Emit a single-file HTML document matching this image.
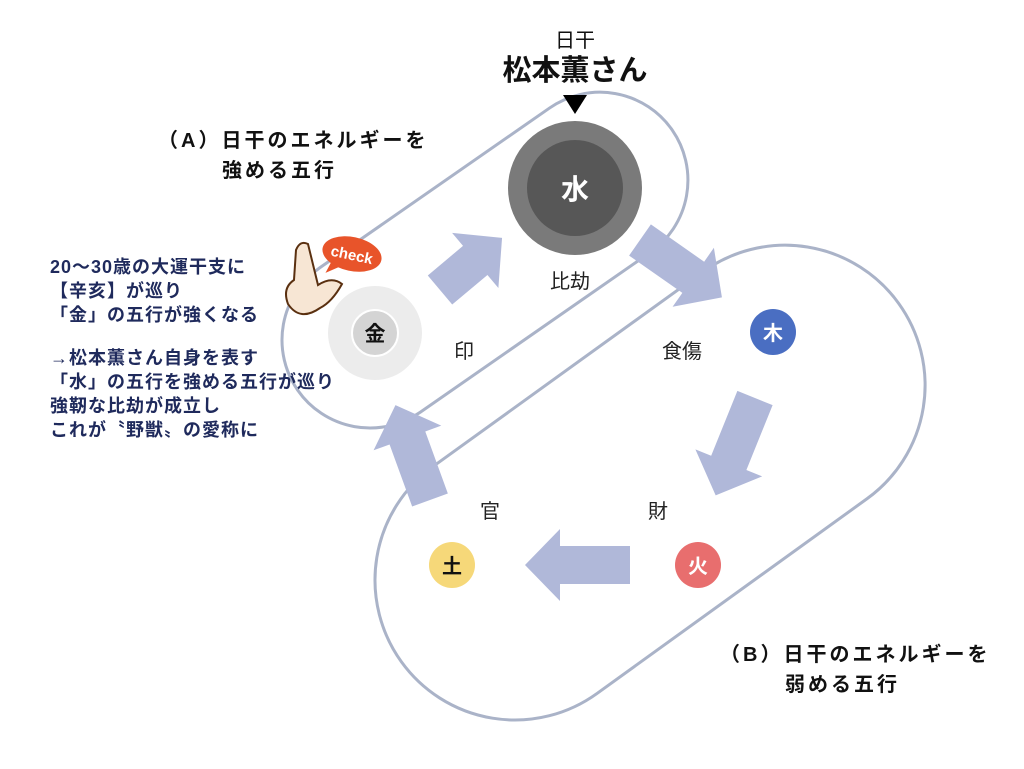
<!DOCTYPE html>
<html><head><meta charset="utf-8"><style>
body{margin:0;background:#fff;width:1024px;height:764px;overflow:hidden;font-family:"Liberation Sans","Noto Sans CJK JP",sans-serif;}
</style></head><body>
<svg width="1024" height="764" viewBox="0 0 1024 764" xmlns="http://www.w3.org/2000/svg" font-family="Liberation Sans, Noto Sans CJK JP, sans-serif">
<rect width="1024" height="764" fill="#fff"/>
<g transform="translate(370,340) rotate(-34.8)">
<rect x="-88" y="-88" width="456" height="176" rx="88" fill="none" stroke="#aab3c8" stroke-width="3"/>
</g>
<g transform="translate(515,580) rotate(-35.8)">
<rect x="-140" y="-140" width="613" height="280" rx="140" fill="none" stroke="#aab3c8" stroke-width="3"/>
</g>
<g fill="#b0b8d9">
<polygon transform="translate(440,290) rotate(-40)" points="0,-19 46,-19 46,-36 81,0 46,36 46,19 0,19"/>
<polygon transform="translate(640,240) rotate(35)" points="0,-19 65,-19 65,-36 100,0 65,36 65,19 0,19"/>
<polygon transform="translate(755,398) rotate(112)" points="0,-19 70,-19 70,-36 105,0 70,36 70,19 0,19"/>
<polygon transform="translate(630,565) rotate(180)" points="0,-19 70,-19 70,-36 105,0 70,36 70,19 0,19"/>
<polygon transform="translate(430,500) rotate(-110)" points="0,-19 66,-19 66,-36 101,0 66,36 66,19 0,19"/>
</g>
<circle cx="575" cy="188" r="67" fill="#7a7a7a"/>
<circle cx="575" cy="188" r="48" fill="#575757"/>
<text x="575" y="199" font-size="28" font-weight="bold" fill="#fff" text-anchor="middle">水</text>
<polygon points="563,95 587,95 575,114" fill="#000"/>
<text x="575" y="47" font-size="20" text-anchor="middle" fill="#111">日干</text>
<text x="575" y="80" font-size="29" font-weight="bold" text-anchor="middle" fill="#111">松本薫さん</text>
<circle cx="375" cy="333" r="47" fill="#ececec"/>
<circle cx="375" cy="333" r="23" fill="#d4d4d4" stroke="#fff" stroke-width="2"/>
<text x="375" y="341" font-size="21" font-weight="bold" text-anchor="middle" fill="#111">金</text>
<circle cx="773" cy="332" r="23" fill="#4a6ec2"/>
<text x="773" y="340" font-size="20" font-weight="bold" text-anchor="middle" fill="#fff">木</text>
<circle cx="698" cy="565" r="23" fill="#e86e6e"/>
<text x="698" y="573" font-size="20" font-weight="bold" text-anchor="middle" fill="#fff">火</text>
<circle cx="452" cy="565" r="23" fill="#f6d879"/>
<text x="452" y="573" font-size="20" font-weight="bold" text-anchor="middle" fill="#111">土</text>
<g font-size="20" fill="#222" text-anchor="middle">
<text x="570" y="288">比劫</text>
<text x="464" y="358">印</text>
<text x="682" y="358">食傷</text>
<text x="490" y="518">官</text>
<text x="658" y="518">財</text>
</g>
<g font-size="20" fill="#111" font-weight="bold" letter-spacing="3">
<text x="158" y="147">（A）日干のエネルギーを</text>
<text x="222" y="177">強める五行</text>
<text x="720" y="661">（B）日干のエネルギーを</text>
<text x="785" y="691">弱める五行</text>
</g>
<g font-size="18" fill="#1f2a5c" font-weight="bold" letter-spacing="1">
<text x="50" y="273">20〜30歳の大運干支に</text>
<text x="50" y="297">【辛亥】が巡り</text>
<text x="50" y="321">「金」の五行が強くなる</text>
<text x="50" y="364">→松本薫さん自身を表す</text>
<text x="50" y="388">「水」の五行を強める五行が巡り</text>
<text x="50" y="412">強靭な比劫が成立し</text>
<text x="50" y="436">これが〝野獣〟の愛称に</text>
</g>
<g transform="translate(352,254) rotate(12)">
<ellipse cx="0" cy="0" rx="30" ry="17" fill="#e8542a"/>
<polygon points="-18,10 -22,24 -8,14" fill="#e8542a"/>
<text x="0" y="6" font-size="15" font-weight="bold" fill="#fff" text-anchor="middle">check</text>
</g>
<g fill="#f7e6d4" stroke="#5a3010" stroke-width="2">
<path d="M296,250 Q300,240 308,244 L318,285 Q332,276 342,284 Q332,302 320,308 Q300,322 288,304 Q282,288 294,280 Z"/>
</g>
</svg>
</body></html>
